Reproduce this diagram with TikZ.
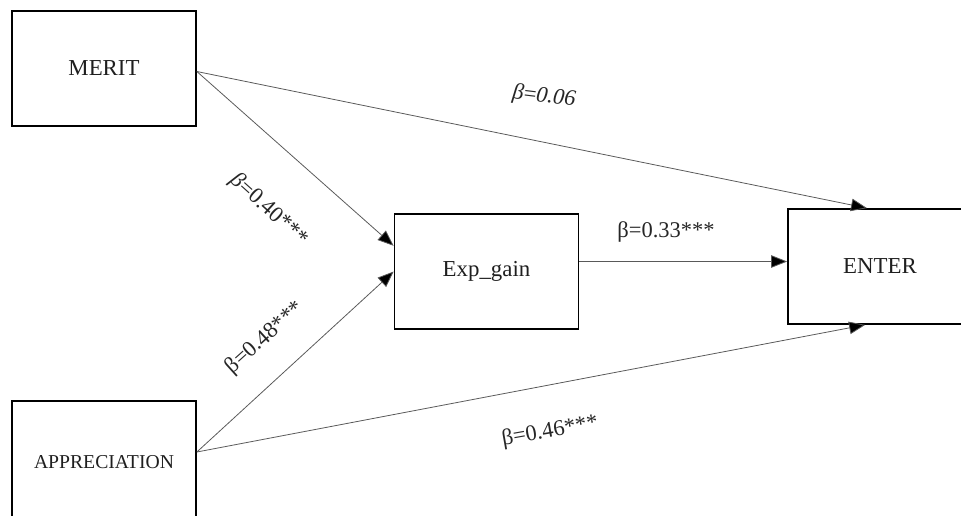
\documentclass[tikz,border=0pt]{standalone}
\usepackage{fontspec}
\setmainfont{Liberation Serif}
\usetikzlibrary{arrows.meta,calc}

\begin{document}
\begin{tikzpicture}[x=0.02cm,y=0.02cm,
  box/.style={draw=black,line width=1pt,minimum width=3.68cm,minimum height=2.3cm,inner sep=0pt,text=black!88,font=\fontsize{13}{15}\selectfont},
  conn/.style={draw=black!65,line width=0.45pt,-{Triangle[length=3.2mm,width=2.5mm,fill=black]}},
  lab/.style={font=\fontsize{12.8}{15}\selectfont,text=black!85,inner sep=1pt}]
  \useasboundingbox (0,0) rectangle (961,-515);
  % boxes (the lower one and ENTER run past the page edge)
  \node[box] (merit) at (104,-68.5) {MERIT};
  \node[box,minimum height=2.44cm,font=\fontsize{11.2}{13}\selectfont] (appreciation) at (104,-462) {APPRECIATION};
  \node[box] (expgain) at (486.5,-271.5) {Exp\_gain};
  \node[box] (enter) at (880,-266.5) {ENTER};
  % paths
  \draw[conn] ($(merit.east)+(0,-3)$) -- ($(enter.north west)!0.43!(enter.north east)$);
  \draw[conn] ($(merit.east)+(0,-3)$) -- ($(expgain.north west)!0.28!(expgain.south west)$);
  \draw[conn] ($(appreciation.east)+(0,10)$) -- (expgain.west);
  \draw[conn] ($(appreciation.east)+(0,10)$) -- ($(enter.south west)!0.42!(enter.south east)$);
  \draw[conn] ($(expgain.east)+(0,10)$) -- ($(enter.west)+(0,5)$);
  % coefficients
  \node[lab,rotate=-7] (l06) at (544,-97) {\textit{β}=\textit{0.06}};
  \node[lab,rotate=-42] (l40) at (269,-210) {\textit{β}=0.40***};
  \node[lab,rotate=42] (l48) at (265,-338) {β=0.48***};
  \node[lab] (l33) at (666,-232) {β=0.33***};
  \node[lab,rotate=10] (l46) at (550,-432) {β=0.46***};
\end{tikzpicture}
\end{document}
